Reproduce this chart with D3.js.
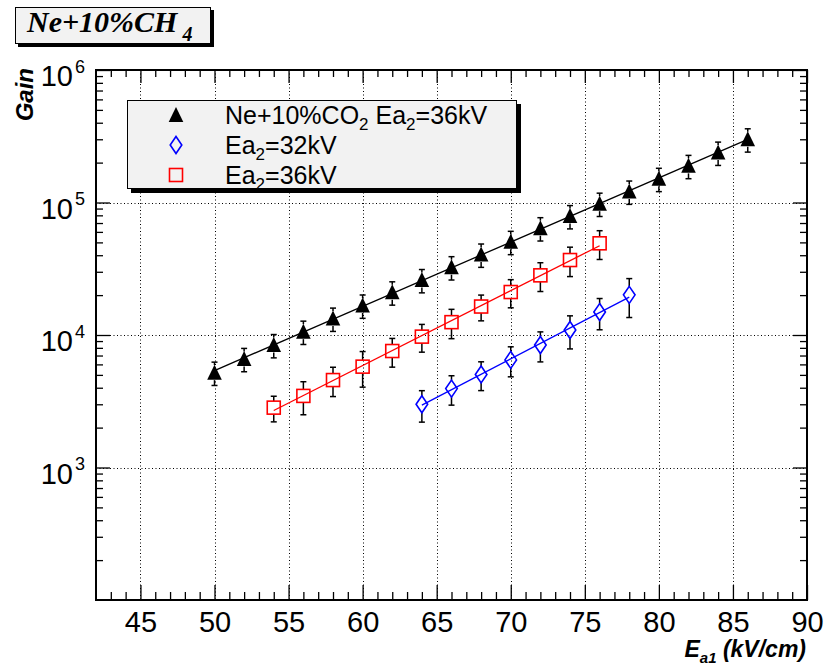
<!DOCTYPE html>
<html><head><meta charset="utf-8">
<script src="https://cdn.jsdelivr.net/npm/d3@7"></script>
<style>body{margin:0;background:#fff}svg{display:block}</style>
</head><body>
<svg id="chart" width="826" height="666"></svg>
<script>
// ---- data ----
const xMajorTicks = [45, 50, 55, 60, 65, 70, 75, 80, 85, 90];
const yMajorTicks = [1e3, 1e4, 1e5, 1e6];
const yLabelExponents = ["3", "4", "5", "6"];

const co2X    = [50, 52, 54, 56, 58, 60, 62, 64, 66, 68, 70, 72, 74, 76, 78, 80, 82, 84, 86];
const co2Gain = [5200, 6600, 8400, 10600, 13300, 16700, 21000, 26000, 32500, 40500, 50500, 64000, 79000, 98000, 121000, 151000, 189000, 238000, 300000];
const co2Err  = [1040, 1320, 1680, 2120, 2660, 3340, 4200, 5200, 6500, 8100, 10100, 12800, 15800, 19600, 24200, 30200, 37800, 47600, 60000];

const ch4kv32X    = [64, 66, 68, 70, 72, 74, 76, 78];
const ch4kv32Gain = [3000, 3940, 5040, 6490, 8410, 10900, 14900, 20100];
const ch4kv32Err  = [800, 985, 1235, 1655, 2145, 3050, 3950, 6550];

const ch4kv36X    = [54, 56, 58, 60, 62, 64, 66, 68, 70, 72, 74, 76];
const ch4kv36Gain = [2830, 3470, 4570, 5770, 7570, 9720, 12500, 16400, 21100, 28200, 36800, 49200];
const ch4kv36Err  = [620, 970, 1140, 1730, 1850, 2300, 3120, 3610, 5060, 6910, 9200, 12050];

const legendLabels = ["Ne+10%CO", "Ea", "Ea"];

// ---- layout ----
const svg = d3.select("#chart");
const L = 96, R = 807, T = 70, B = 600;
const SANS = "'Liberation Sans', Arial, Helvetica, sans-serif";
const SERIF = "'Liberation Serif', 'Times New Roman', serif";

const x = d3.scaleLinear().domain([42, 90]).range([L, R]);
const y = d3.scaleLog().domain([100, 1e6]).range([B, T]);

// grid
const grid = svg.append("g").attr("stroke", "#000").attr("stroke-width", 1).attr("stroke-dasharray", "1,2.5");
grid.selectAll("line.gx").data(xMajorTicks.filter(d => d < 90)).join("line")
  .attr("x1", d => Math.round(x(d)) + 0.5).attr("x2", d => Math.round(x(d)) + 0.5)
  .attr("y1", T).attr("y2", B);
grid.selectAll("line.gy").data(yMajorTicks.filter(d => d < 1e6)).join("line")
  .attr("y1", d => Math.round(y(d)) + 0.5).attr("y2", d => Math.round(y(d)) + 0.5)
  .attr("x1", L).attr("x2", R);

// minor ticks
const xMinor = d3.range(43, 90).filter(d => d % 5 !== 0);
const yMinor = [];
[100, 1000, 10000, 100000].forEach(b => { for (let k = 2; k <= 9; k++) yMinor.push(b * k); });

function styleAxis(g) {
  g.select(".domain").remove();
  g.selectAll(".tick line").attr("stroke", "#000").attr("stroke-width", 1.3);
}
svg.append("g").attr("transform", `translate(0,${B})`)
  .call(d3.axisBottom(x).tickValues(xMinor).tickSizeInner(-8).tickSizeOuter(0).tickFormat(""))
  .call(styleAxis);
svg.append("g").attr("transform", `translate(0,${B})`)
  .call(d3.axisBottom(x).tickValues(xMajorTicks).tickSizeInner(-15).tickSizeOuter(0).tickPadding(11).tickFormat(d3.format("d")))
  .call(styleAxis)
  .call(g => g.selectAll("text").attr("font-family", SANS).attr("font-size", 29).attr("fill", "#000"));
svg.append("g").attr("transform", `translate(0,${T})`)
  .call(d3.axisTop(x).tickValues(xMinor).tickSizeInner(-7).tickSizeOuter(0).tickFormat(""))
  .call(styleAxis);
svg.append("g").attr("transform", `translate(0,${T})`)
  .call(d3.axisTop(x).tickValues(xMajorTicks).tickSizeInner(-13).tickSizeOuter(0).tickFormat(""))
  .call(styleAxis);
svg.append("g").attr("transform", `translate(${L},0)`)
  .call(d3.axisLeft(y).tickValues(yMinor).tickSizeInner(-7).tickSizeOuter(0).tickFormat(""))
  .call(styleAxis);
svg.append("g").attr("transform", `translate(${L},0)`)
  .call(d3.axisLeft(y).tickValues(yMajorTicks).tickSizeInner(-14).tickSizeOuter(0).tickFormat(""))
  .call(styleAxis);
svg.append("g").attr("transform", `translate(${R},0)`)
  .call(d3.axisRight(y).tickValues(yMinor).tickSizeInner(-7).tickSizeOuter(0).tickFormat(""))
  .call(styleAxis);
svg.append("g").attr("transform", `translate(${R},0)`)
  .call(d3.axisRight(y).tickValues(yMajorTicks).tickSizeInner(-14).tickSizeOuter(0).tickFormat(""))
  .call(styleAxis);

// y labels 10^n
const yl = svg.append("g").attr("font-family", SANS).attr("fill", "#000");
yMajorTicks.forEach((v, i) => {
  const py = y(v);
  yl.append("text").attr("x", 73).attr("y", py + 16).attr("text-anchor", "end").attr("font-size", 29).text("10");
  yl.append("text").attr("x", 75).attr("y", py + 2.5).attr("font-size", 18).text(yLabelExponents[i]);
});

// frame
svg.append("rect").attr("x", L).attr("y", T).attr("width", R - L).attr("height", B - T)
  .attr("fill", "none").attr("stroke", "#000").attr("stroke-width", 2);

// fits (exponential least squares in log space)
function fitLine(xs, ys) {
  const n = xs.length, lx = d3.mean(xs), ly = d3.mean(ys.map(Math.log10));
  let sxy = 0, sxx = 0;
  xs.forEach((xi, i) => { sxy += (xi - lx) * (Math.log10(ys[i]) - ly); sxx += (xi - lx) ** 2; });
  const b = sxy / sxx, a = ly - b * lx;
  const x0 = xs[0], x1 = xs[n - 1];
  return [[x0, 10 ** (a + b * x0)], [x1, 10 ** (a + b * x1)]];
}
const line = d3.line().x(d => x(d[0])).y(d => y(d[1]));
const series = [
  { xs: co2X, ys: co2Gain, es: co2Err, color: "#000", kind: "tri", half: 7.5 },
  { xs: ch4kv32X, ys: ch4kv32Gain, es: ch4kv32Err, color: "#0000ff", kind: "dia", half: 8 },
  { xs: ch4kv36X, ys: ch4kv36Gain, es: ch4kv36Err, color: "#ff0000", kind: "sq", half: 6.5 }
];
series.forEach(s => {
  svg.append("path").attr("d", line(fitLine(s.xs, s.ys))).attr("fill", "none")
    .attr("stroke", s.color).attr("stroke-width", 1.3);
});

// error bars
series.forEach(s => {
  const g = svg.append("g").attr("stroke", "#000").attr("stroke-width", 1.5);
  s.xs.forEach((xv, i) => {
    const px = x(xv), py = y(s.ys[i]);
    const top = y(s.ys[i] + s.es[i]), bot = y(s.ys[i] - s.es[i]);
    if (top < py - s.half) g.append("line").attr("x1", px).attr("x2", px).attr("y1", top).attr("y2", py - s.half);
    if (bot > py + s.half) g.append("line").attr("x1", px).attr("x2", px).attr("y1", py + s.half).attr("y2", bot);
    g.append("line").attr("x1", px - 3).attr("x2", px + 3).attr("y1", top).attr("y2", top);
    g.append("line").attr("x1", px - 3).attr("x2", px + 3).attr("y1", bot).attr("y2", bot);
  });
});

// markers
function marker(g, kind, color, px, py) {
  if (kind === "tri") {
    g.append("path").attr("d", `M${px},${py - 8}L${px + 7.3},${py + 7}L${px - 7.3},${py + 7}Z`).attr("fill", color);
  } else if (kind === "dia") {
    g.append("path").attr("d", `M${px},${py - 8.5}L${px + 5.8},${py}L${px},${py + 8.5}L${px - 5.8},${py}Z`)
      .attr("fill", "none").attr("stroke", color).attr("stroke-width", 1.6);
  } else {
    g.append("rect").attr("x", px - 6.5).attr("y", py - 6.5).attr("width", 13).attr("height", 13)
      .attr("fill", "none").attr("stroke", color).attr("stroke-width", 1.6);
  }
}
series.forEach(s => {
  const g = svg.append("g");
  s.xs.forEach((xv, i) => marker(g, s.kind, s.color, x(xv), y(s.ys[i])));
});

// legend
const lg = svg.append("g");
lg.append("rect").attr("x", 131).attr("y", 104).attr("width", 390).attr("height", 89).attr("fill", "#000");
lg.append("rect").attr("x", 127.5).attr("y", 100.5).attr("width", 389).attr("height", 88)
  .attr("fill", "#f2f2f2").attr("stroke", "#000").attr("stroke-width", 1);
const rowsY = [115, 145, 175];
marker(lg, "tri", "#000", 176, rowsY[0]);
marker(lg, "dia", "#0000ff", 176, rowsY[1]);
marker(lg, "sq", "#ff0000", 176, rowsY[2]);
const lt = lg.append("g").attr("font-family", SANS).attr("fill", "#000").attr("font-size", 25);
{
  const t = lt.append("text").attr("x", 225).attr("y", rowsY[0] + 9);
  t.append("tspan").text(legendLabels[0]);
  t.append("tspan").attr("font-size", 17).attr("dy", 6).text("2");
  t.append("tspan").attr("dy", -6).text(" Ea");
  t.append("tspan").attr("font-size", 17).attr("dy", 6).text("2");
  t.append("tspan").attr("dy", -6).text("=36kV");
}
[["32kV", rowsY[1]], ["36kV", rowsY[2]]].forEach(([v, yy], i) => {
  const t = lt.append("text").attr("x", 225).attr("y", yy + 9);
  t.append("tspan").text(legendLabels[i + 1]);
  t.append("tspan").attr("font-size", 17).attr("dy", 6).text("2");
  t.append("tspan").attr("dy", -6).text("=" + v);
});

// title box
const tb = svg.append("g");
tb.append("rect").attr("x", 18).attr("y", 10).attr("width", 196).attr("height", 37).attr("fill", "#000");
tb.append("rect").attr("x", 15.5).attr("y", 7.5).attr("width", 195).attr("height", 36)
  .attr("fill", "#f2f2f2").attr("stroke", "#000").attr("stroke-width", 1);
{
  const t = tb.append("text").attr("x", 27).attr("y", 32).attr("font-family", SERIF)
    .attr("font-weight", "bold").attr("font-style", "italic").attr("font-size", 30).attr("fill", "#000");
  t.append("tspan").text("Ne+10%CH");
  t.append("tspan").attr("font-size", 20).attr("dy", 9).text(" 4");
}

// axis titles
svg.append("text").attr("transform", "translate(33,68) rotate(-90)").attr("text-anchor", "end")
  .attr("font-family", SANS).attr("font-weight", "bold").attr("font-style", "italic").attr("font-size", 24)
  .attr("fill", "#000").text("Gain");
{
  const t = svg.append("text").attr("x", 806).attr("y", 657).attr("text-anchor", "end")
    .attr("font-family", SANS).attr("font-weight", "bold").attr("font-style", "italic").attr("font-size", 23).attr("fill", "#000");
  t.append("tspan").text("E");
  t.append("tspan").attr("font-size", 15).attr("dy", 6).text("a1");
  t.append("tspan").attr("dy", -6).text(" (kV/cm)");
}
</script>
</body></html>
